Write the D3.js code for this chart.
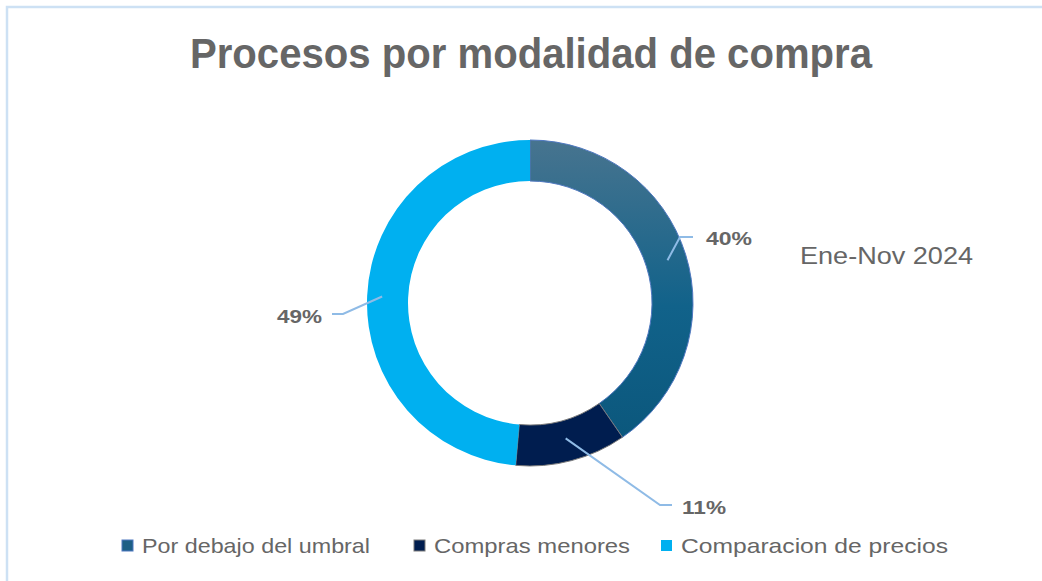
<!DOCTYPE html>
<html><head><meta charset="utf-8">
<script src="https://cdn.jsdelivr.net/npm/d3@7"></script>
<style>html,body{margin:0;padding:0;background:#fff;}svg{display:block;}</style>
</head><body>
<svg id="chart" width="1042" height="581"></svg>
<script>
const categories = ["Por debajo del umbral", "Compras menores", "Comparacion de precios"];
const values = [40.4, 11.0, 48.6];
const labels = ["40%", "11%", "49%"];
const colors = ["#0e5a80", "#001d4f", "#00b0f0"];
const title = "Procesos por modalidad de compra";
const subtitle = "Ene-Nov 2024";

const svg = d3.select("#chart");
const W = 1042, H = 581;
const grey = "#666666";
const font = "'Liberation Sans', Arial, sans-serif";

// frame
svg.append("rect").attr("x", 7).attr("y", 7).attr("width", W + 20).attr("height", H + 20)
  .attr("fill", "#fff").attr("stroke", "#cde1f4").attr("stroke-width", 2.5);

// gradient for first slice
const defs = svg.append("defs");
const grad = defs.append("linearGradient").attr("id", "g0")
  .attr("gradientUnits", "userSpaceOnUse").attr("x1", 0).attr("y1", -163).attr("x2", 0).attr("y2", 140);
grad.append("stop").attr("offset", "0%").attr("stop-color", "#47748f");
grad.append("stop").attr("offset", "55%").attr("stop-color", "#11628a");
grad.append("stop").attr("offset", "100%").attr("stop-color", "#0b577c");

function squeeze(sel, w) {
  sel.attr("textLength", w).attr("lengthAdjust", "spacingAndGlyphs");
}

// title
const t = svg.append("text").attr("x", 190).attr("y", 68)
  .attr("font-family", font).attr("font-weight", "bold")
  .attr("font-size", 42).attr("fill", grey).text(title);
squeeze(t, 682);

const cx = 530, cy = 303, rOuter = 163, rInner = 122;
const g = svg.append("g").attr("transform", `translate(${cx},${cy})`);
const pie = d3.pie().sort(null).value(d => d)(values);
const arc = d3.arc().innerRadius(rInner).outerRadius(rOuter);
g.selectAll("path.slice").data(pie).enter().append("path").attr("class", "slice")
  .attr("d", arc)
  .attr("fill", (d, i) => i === 0 ? "url(#g0)" : colors[i])
  .attr("stroke", (d, i) => i === 0 ? "#4f78c0" : (i === 1 ? "#7a7a7a" : "none"))
  .attr("stroke-width", 1);

// leader lines and labels
const labelGeom = [
  { elbow: [150, -66], end: [163, -66], text: [176, -58] },
  { elbow: [130, 202], end: [142, 202], text: [152, 211] },
  { elbow: [-187, 11], end: [-198, 11], text: [-253, 20] }
];
const labelW = [46, 44, 45];
pie.forEach((d, i) => {
  const a = (d.startAngle + d.endAngle) / 2;
  const r0 = (i === 0) ? 144 : (i === 1 ? 140 : 148);
  const p0 = [Math.sin(a) * r0, -Math.cos(a) * r0];
  const L = labelGeom[i];
  g.append("polyline")
    .attr("points", [p0, L.elbow, L.end].map(p => p.join(",")).join(" "))
    .attr("fill", "none").attr("stroke", "#8fbbe6").attr("stroke-width", 2);
  const lt = g.append("text").attr("x", L.text[0]).attr("y", L.text[1])
    .attr("font-family", font).attr("font-weight", "bold")
    .attr("font-size", 19).attr("fill", grey).text(labels[i]);
  squeeze(lt, labelW[i]);
});

// subtitle
const st = svg.append("text").attr("x", 800).attr("y", 264)
  .attr("font-family", font)
  .attr("font-size", 24).attr("fill", grey).text(subtitle);
squeeze(st, 173);

// legend
const legX = [122, 414, 661];
const legW = [228, 196, 267];
categories.forEach((c, i) => {
  svg.append("rect").attr("x", legX[i]).attr("y", 540).attr("width", 11).attr("height", 11)
    .attr("fill", i === 0 ? "#1d5f85" : colors[i])
    .attr("stroke", i === 0 ? "#4f78c0" : (i === 1 ? "#7a7a7a" : "none")).attr("stroke-width", 1);
  const lt = svg.append("text").attr("x", legX[i] + 20).attr("y", 553)
    .attr("font-family", font)
    .attr("font-size", 21).attr("fill", grey).text(c);
  squeeze(lt, legW[i]);
});
</script>
</body></html>
